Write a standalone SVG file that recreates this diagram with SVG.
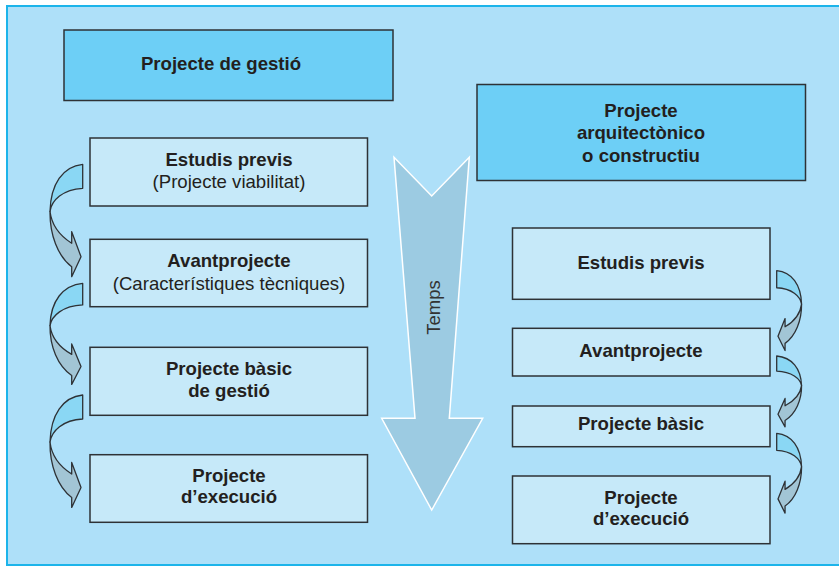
<svg xmlns="http://www.w3.org/2000/svg" width="839" height="566" viewBox="0 0 839 566">
<style>
.box{fill:#c6e9f9;stroke:#2e3236;stroke-width:1.5}
.hbox{fill:#6dcff6;stroke:#2e3236;stroke-width:1.5}
text{font-family:"Liberation Sans",Arial,sans-serif;font-size:18.6px;fill:#231f20;text-anchor:middle}
.b{font-weight:bold}
.up{fill:#8ad7f4;stroke:#2e3236;stroke-width:1.3;stroke-linejoin:round}
.lo{fill:#a2c5d5;stroke:#2e3236;stroke-width:1.3;stroke-linejoin:round}
</style>
<defs>
<g id="carrow">
<path class="up" vector-effect="non-scaling-stroke" d="M0,0 C-20,2 -32,20 -32.7,47 C-31,36 -20,25 0,24 Z"/>
<path class="lo" vector-effect="non-scaling-stroke" d="M-32.7,47 C-33,70 -25,92 -11,102.4 L-11,112.4 L-1.7,92.4 L-11,67.4 L-11,79 C-22,72 -31,62 -32.7,47 Z"/>
</g>
</defs>
<rect x="0" y="0" width="839" height="566" fill="#ffffff"/>
<rect x="7" y="6" width="840" height="559" fill="#aee0f9" stroke="#1cb4ea" stroke-width="2"/>

<g id="connectors">
<use href="#carrow" transform="translate(82.7,164.3)"/>
<use href="#carrow" transform="translate(82.7,283.3) scale(1,0.9)"/>
<use href="#carrow" transform="translate(82.7,395)"/>
<use href="#carrow" transform="translate(776.7,270.7) scale(-0.76,0.71)"/>
<use href="#carrow" transform="translate(776.7,356) scale(-0.76,0.63)"/>
<use href="#carrow" transform="translate(776.7,433.3) scale(-0.76,0.71)"/>
</g>

<g id="temps">
<polygon points="394,157.3 431.7,196 469.3,157.3 449.3,418.3 482.7,418.3 431.7,510 381.7,418.3 415,418.3" fill="#9ccbe2" stroke="#ffffff" stroke-width="1.5"/>
<text transform="translate(440,307.5) rotate(-90)" style="font-size:18.5px;fill:#333">Temps</text>
</g>

<g id="n-gestio">
<rect class="hbox" x="64" y="30" width="329" height="70.5"/>
<text class="b" x="221" y="70">Projecte de gestió</text>
</g>
<g id="n-arquitectonic">
<rect class="hbox" x="477" y="84.5" width="328.5" height="96"/>
<text class="b" x="641" y="116.7">Projecte</text>
<text class="b" x="641" y="139.3">arquitectònico</text>
<text class="b" x="641" y="161.7">o constructiu</text>
</g>

<g id="n-l1">
<rect class="box" x="90" y="138" width="277.5" height="68"/>
<text class="b" x="229" y="165.7">Estudis previs</text>
<text x="229" y="188.3">(Projecte viabilitat)</text>
</g>
<g id="n-l2">
<rect class="box" x="90" y="239.3" width="277.5" height="67.4"/>
<text class="b" x="229" y="266.7">Avantprojecte</text>
<text x="229" y="290">(Característiques tècniques)</text>
</g>
<g id="n-l3">
<rect class="box" x="90" y="347.3" width="277.5" height="68"/>
<text class="b" x="229" y="375">Projecte bàsic</text>
<text class="b" x="229" y="397.3">de gestió</text>
</g>
<g id="n-l4">
<rect class="box" x="90" y="454.7" width="277.5" height="67.6"/>
<text class="b" x="229" y="481.7">Projecte</text>
<text class="b" x="229" y="503.3">d’execució</text>
</g>

<g id="n-r1">
<rect class="box" x="512.5" y="228" width="257.5" height="71.3"/>
<text class="b" x="641" y="269">Estudis previs</text>
</g>
<g id="n-r2">
<rect class="box" x="512.5" y="328.3" width="257.5" height="47.7"/>
<text class="b" x="641" y="356.7">Avantprojecte</text>
</g>
<g id="n-r3">
<rect class="box" x="512.5" y="406" width="257.5" height="40.7"/>
<text class="b" x="641" y="430">Projecte bàsic</text>
</g>
<g id="n-r4">
<rect class="box" x="512.5" y="476" width="257.5" height="67.7"/>
<text class="b" x="641" y="504">Projecte</text>
<text class="b" x="641" y="525">d’execució</text>
</g>
</svg>
